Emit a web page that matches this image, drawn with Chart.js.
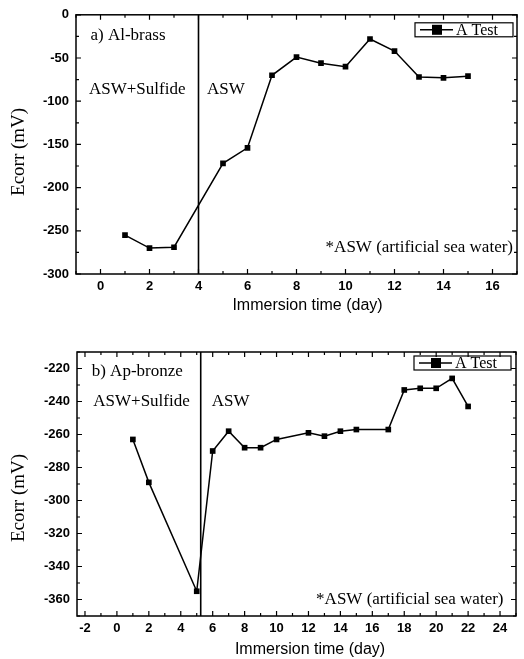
<!DOCTYPE html>
<html><head><meta charset="utf-8">
<script src="https://cdn.jsdelivr.net/npm/chart.js@4.4.1/dist/chart.umd.min.js"></script>
<style>
html,body{margin:0;padding:0;background:#fff;width:524px;height:659px;overflow:hidden;}
canvas{position:absolute;left:0;}
#c1{top:0;} #c2{top:330px;}
</style></head><body>
<canvas id="c1" width="524" height="322"></canvas>
<canvas id="c2" width="524" height="329"></canvas>
<script>
// ---- data ----
const daysA = [1,2,3,5,6,7,8,9,10,11,12,13,14,15];
const ecorrA = [-255,-270,-269,-172,-154,-70,-49,-56,-60,-28,-42,-72,-73,-71];
const xTicksA = [0,2,4,6,8,10,12,14,16];
const yTicksA = [0,-50,-100,-150,-200,-250,-300];

const daysB = [1,2,5,6,7,8,9,10,12,13,14,15,17,18,19,20,21,22];
const ecorrB = [-263,-289,-355,-270,-258,-268,-268,-263,-259,-261,-258,-257,-257,-233,-232,-232,-226,-243];
const xTicksB = [-2,0,2,4,6,8,10,12,14,16,18,20,22,24];
const yTicksB = [-220,-240,-260,-280,-300,-320,-340,-360];

const seriesLabel = 'A Test';
const xTitle = 'Immersion time (day)';
const yTitle = 'Ecorr (mV)';
const panelA = 'a) Al-brass';
const panelB = 'b) Ap-bronze';
const condLabel = 'ASW+Sulfide';
const aswLabel = 'ASW';
const noteLabel = '*ASW (artificial sea water)';

// ---- drawing helpers ----
const SERIF = '"Liberation Serif", "DejaVu Serif", serif';
const SANS = '"Liberation Sans", Arial, sans-serif';

const framePlugin = {
  id: 'frame',
  afterDraw(chart, args, o) {
    const ctx = chart.ctx, ca = chart.chartArea;
    const xs = chart.scales.x, ys = chart.scales.y;
    ctx.save();
    ctx.strokeStyle = '#000';
    ctx.fillStyle = '#000';
    // frame
    ctx.lineWidth = 1.5;
    ctx.strokeRect(ca.left, ca.top, ca.right - ca.left, ca.bottom - ca.top);
    // inward ticks
    ctx.lineWidth = 1.2;
    const majX = xs.ticks.map(t => t.value), majY = ys.ticks.map(t => t.value);
    const near = (arr, v) => arr.some(a => Math.abs(a - v) < 1e-6);
    ctx.beginPath();
    for (let v = Math.ceil(xs.min / o.xMinor) * o.xMinor; v <= xs.max + 1e-9; v += o.xMinor) {
      const px = xs.getPixelForValue(v);
      const L = near(majX, v) ? 5 : 3;
      ctx.moveTo(px, ca.bottom); ctx.lineTo(px, ca.bottom - L);
      ctx.moveTo(px, ca.top); ctx.lineTo(px, ca.top + L);
    }
    for (let v = Math.ceil(ys.min / o.yMinor) * o.yMinor; v <= ys.max + 1e-9; v += o.yMinor) {
      const py = ys.getPixelForValue(v);
      const L = near(majY, v) ? 5 : 3;
      ctx.moveTo(ca.left, py); ctx.lineTo(ca.left + L, py);
      ctx.moveTo(ca.right, py); ctx.lineTo(ca.right - L, py);
    }
    ctx.stroke();
    // divider
    ctx.lineWidth = 1.6;
    const dx = xs.getPixelForValue(o.divider);
    ctx.beginPath(); ctx.moveTo(dx, ca.top); ctx.lineTo(dx, ca.bottom); ctx.stroke();
    // annotations
    ctx.textBaseline = 'middle';
    ctx.font = '17px ' + SERIF;
    ctx.textAlign = 'left';
    ctx.fillText(o.panel, ca.left + o.panelPos[0], ca.top + o.panelPos[1]);
    ctx.fillText(condLabel, ca.left + o.condPos[0], ca.top + o.condPos[1]);
    ctx.fillText(aswLabel, ca.left + o.aswPos[0], ca.top + o.aswPos[1]);
    ctx.textAlign = 'right';
    ctx.fillText(noteLabel, ca.right + o.notePos[0], ca.bottom + o.notePos[1]);
    // legend
    const ds = chart.data.datasets[0];
    const bx = ca.right + o.legend[0], by = ca.top + o.legend[1], bw = o.legend[2], bh = o.legend[3];
    ctx.lineWidth = 1.2;
    ctx.strokeRect(bx, by, bw, bh);
    const cy = by + bh / 2;
    ctx.lineWidth = ds.borderWidth;
    ctx.beginPath(); ctx.moveTo(bx + 5, cy); ctx.lineTo(bx + 38, cy); ctx.stroke();
    ctx.fillRect(bx + 17, cy - 5, 10, 10);
    ctx.textAlign = 'left';
    ctx.font = '16px ' + SERIF;
    ctx.fillText(ds.label, bx + 41, cy + 0.5);
    // axis titles
    ctx.font = '16px ' + SANS;
    ctx.textAlign = 'center';
    ctx.fillText(xTitle, (ca.left + ca.right) / 2 + o.xTitle[0], o.xTitle[1]);
    ctx.save();
    ctx.translate(o.yTitle[0], (ca.top + ca.bottom) / 2 + o.yTitle[1]);
    ctx.rotate(-Math.PI / 2);
    ctx.font = '19px ' + SERIF;
    ctx.fillText(yTitle, 0, 0);
    ctx.restore();
    ctx.restore();
  }
};

function makeChart(id, days, vals, xMin, xMax, xTicks, yMin, yMax, yTicks, pad, yW, xH, frame) {
  const pts = days.map((d, i) => ({x: d, y: vals[i]}));
  const tickFont = {family: SANS, size: 13, weight: 'bold'};
  return new Chart(document.getElementById(id), {
    type: 'line',
    data: {datasets: [{
      label: seriesLabel, data: pts,
      borderColor: '#000', backgroundColor: '#000', borderWidth: 1.5,
      pointStyle: 'rect', pointRadius: 4, pointBackgroundColor: '#000', pointBorderWidth: 0,
      tension: 0, fill: false
    }]},
    options: {
      responsive: false, animation: false, devicePixelRatio: 1,
      layout: {padding: pad},
      plugins: {legend: {display: false}, tooltip: {enabled: false}, frame: frame},
      scales: {
        x: {type: 'linear', min: xMin, max: xMax,
          afterBuildTicks: s => { s.ticks = xTicks.map(v => ({value: v})); },
          afterFit: s => { s.height = xH; },
          grid: {display: false, drawTicks: false}, border: {display: false},
          ticks: {font: tickFont, color: '#000', padding: 5, maxRotation: 0, autoSkip: false}},
        y: {type: 'linear', min: yMin, max: yMax,
          afterBuildTicks: s => { s.ticks = yTicks.map(v => ({value: v})); },
          afterFit: s => { s.width = yW; },
          grid: {display: false, drawTicks: false}, border: {display: false},
          ticks: {font: tickFont, color: '#000', padding: 7, autoSkip: false}}
      }
    },
    plugins: [framePlugin]
  });
}

makeChart('c1', daysA, ecorrA, -1, 17, xTicksA, -300, 0, yTicksA,
  {top: 11, right: 7, left: 0, bottom: 0}, 76, 48,
  {divider: 4, xMinor: 1, yMinor: 25, panel: panelA,
   panelPos: [14.5, 21], condPos: [13, 75], aswPos: [131, 75], notePos: [-4, -26],
   legend: [-102, 8, 98, 14], xTitle: [11, 306], yTitle: [19, 7.5]});

makeChart('c2', daysB, ecorrB, -2.5, 25, xTicksB, -370, -210, yTicksB,
  {top: 22, right: 8, left: 0, bottom: 0}, 77, 43,
  {divider: 5.25, xMinor: 1, yMinor: 10, panel: panelB,
   panelPos: [14.7, 19.7], condPos: [16.3, 49.7], aswPos: [134.7, 49.7], notePos: [-12.5, -16],
   legend: [-102, 4, 97, 14], xTitle: [13.5, 320], yTitle: [19, 14]});
</script>
</body></html>
